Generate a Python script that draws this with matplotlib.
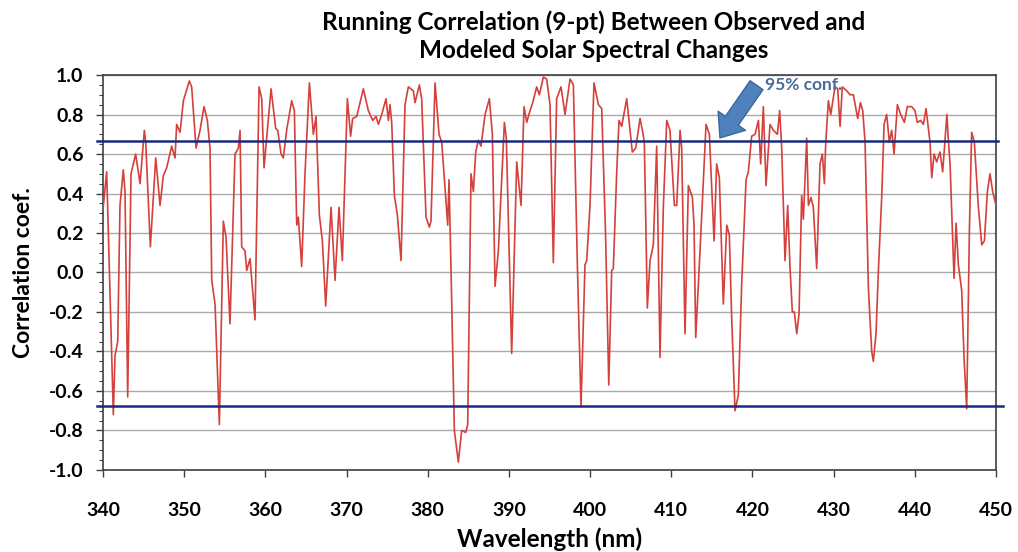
import matplotlib
matplotlib.use("Agg")
import matplotlib.pyplot as plt
from matplotlib.patches import FancyArrowPatch
from matplotlib.ticker import MultipleLocator

# Running 9-pt correlation, one row per 10 nm
wavelength = [
    340.0, 340.45, 341.27, 341.48, 341.81, 342.09, 342.5, 342.71, 343.04, 343.45, 344.02, 344.56, 345.09,
    345.26, 345.83, 346.49, 346.65, 347.02, 347.43, 347.84, 348.46, 348.87, 349.07, 349.49, 349.9,
    350.63, 350.92, 351.46, 351.95, 352.44, 352.85, 353.18, 353.39, 353.8, 354.33, 354.82, 355.15,
    355.64, 356.26, 356.67, 356.88, 357.08, 357.49, 357.7, 358.11, 358.72, 359.22, 359.55, 359.83,
    360.7, 361.27, 361.52, 361.93, 362.21, 362.62, 363.24, 363.57, 363.86, 364.06, 364.47,
    364.88, 365.42, 365.91, 366.24, 366.65, 367.02, 367.43, 368.09, 368.58, 369.07, 369.48,
    370.1, 370.5, 370.75, 371.25, 372.07, 372.68, 373.22, 373.63, 373.92, 374.33, 374.86, 375.15,
    375.35, 375.56, 375.89, 376.26, 376.71, 377.2, 377.61, 378.23, 378.43, 378.97, 379.25, 379.79,
    380.2, 380.4, 380.9, 381.39, 381.72, 382.13, 382.46, 382.62, 382.87, 383.28, 383.77, 384.18, 384.67,
    384.92, 385.33, 385.62, 385.91, 386.23, 386.56, 387.06, 387.59, 387.96, 388.29, 388.7, 389.44, 389.68,
    390.34, 390.96, 391.49, 391.86, 392.19, 392.6, 392.93, 393.42, 393.75, 394.24, 394.65, 395.06,
    395.47, 395.88, 396.42, 396.91, 397.53, 397.94, 398.43, 398.88, 399.37, 399.58, 399.99,
    400.48, 401.02, 401.43, 401.9, 402.3, 402.66, 402.86, 403.27, 403.56, 403.89, 404.51, 404.92, 405.2,
    405.62, 406.15, 406.44, 406.68, 407.05, 407.38, 407.79, 408.2, 408.61, 409.02, 409.44, 409.84,
    410.38, 410.67, 411.08, 411.28, 411.69, 412.1, 412.6, 412.8, 413.01, 413.54, 414.28, 414.69, 415.27,
    415.59, 415.92, 416.41, 416.83, 417.15, 417.44, 417.85, 418.26, 418.67, 419.21, 419.49, 419.9,
    420.32, 420.73, 421.01, 421.34, 421.67, 422.16, 422.57, 423.07, 423.35, 423.6, 424.01, 424.34, 424.63,
    424.91, 425.16, 425.45, 425.74, 426.06, 426.27, 426.68, 426.89, 427.21, 427.5, 427.91, 428.32, 428.61,
    428.86, 429.02, 429.35, 429.64,
    430.17, 430.5, 430.79, 431.07, 431.61, 432.02, 432.43, 432.96, 433.3, 433.58, 433.87, 434.28, 434.69,
    434.89, 435.22, 435.51, 435.92, 436.21, 436.53, 436.86, 437.15, 437.44, 437.85, 438.26, 438.71,
    439.08, 439.61,
    440.02, 440.31, 440.72, 441.05, 441.38, 441.87, 442.08, 442.37, 442.69, 443.1, 443.43, 443.95, 444.1,
    444.34, 444.83, 445.08, 445.36, 445.77, 446.06, 446.39, 446.72, 447.0, 447.33, 447.83, 448.24,
    448.57, 448.94, 449.26, 449.59, 450.0,
]
correlation = [
    0.32, 0.51, -0.72, -0.42, -0.35, 0.34, 0.52, 0.41, -0.63, 0.50, 0.60, 0.45, 0.72,
    0.66, 0.13, 0.58, 0.51, 0.34, 0.49, 0.53, 0.64, 0.58, 0.75, 0.71, 0.87,
    0.97, 0.94, 0.63, 0.72, 0.84, 0.77, 0.63, -0.04, -0.16, -0.77, 0.26, 0.18,
    -0.26, 0.60, 0.63, 0.72, 0.13, 0.11, 0.01, 0.07, -0.24, 0.94, 0.88, 0.53,
    0.93, 0.73, 0.72, 0.60, 0.58, 0.72, 0.87, 0.82, 0.24, 0.28, 0.03,
    0.50, 0.96, 0.70, 0.79, 0.29, 0.16, -0.17, 0.33, -0.04, 0.33, 0.06,
    0.88, 0.69, 0.78, 0.79, 0.93, 0.82, 0.77, 0.79, 0.75, 0.80, 0.88, 0.77,
    0.85, 0.76, 0.39, 0.29, 0.06, 0.85, 0.94, 0.92, 0.86, 0.95, 0.88, 0.28,
    0.23, 0.26, 0.96, 0.70, 0.66, 0.43, 0.24, 0.47, 0.01, -0.80, -0.96, -0.80, -0.81,
    -0.77, 0.50, 0.41, 0.61, 0.67, 0.64, 0.80, 0.88, 0.70, -0.07, 0.11, 0.76, 0.68,
    -0.41, 0.56, 0.34, 0.84, 0.76, 0.82, 0.86, 0.94, 0.90, 0.99, 0.98, 0.85,
    0.05, 0.88, 0.94, 0.80, 0.98, 0.95, 0.04, -0.68, 0.04, 0.06, 0.34,
    0.96, 0.85, 0.83, 0.20, -0.57, 0.01, 0.02, 0.50, 0.77, 0.74, 0.88, 0.72, 0.61,
    0.63, 0.78, 0.72, 0.66, -0.18, 0.06, 0.14, 0.64, -0.43, 0.33, 0.77, 0.72,
    0.34, 0.34, 0.72, 0.63, -0.31, 0.44, 0.38, 0.24, -0.33, 0.11, 0.75, 0.70, 0.16,
    0.55, 0.48, -0.16, 0.24, 0.19, -0.23, -0.70, -0.62, -0.06, 0.47, 0.51, 0.69,
    0.70, 0.77, 0.55, 0.84, 0.44, 0.75, 0.72, 0.70, 0.82, 0.63, 0.06, 0.34, 0.02,
    -0.20, -0.20, -0.31, -0.21, 0.39, 0.27, 0.68, 0.34, 0.38, 0.33, 0.02, 0.55, 0.60,
    0.45, 0.65, 0.87, 0.80,
    0.94, 0.93, 0.74, 0.94, 0.92, 0.90, 0.90, 0.78, 0.86, 0.82, 0.66, -0.08, -0.40,
    -0.45, -0.31, 0.01, 0.38, 0.75, 0.80, 0.66, 0.72, 0.60, 0.85, 0.80, 0.76,
    0.84, 0.84,
    0.82, 0.76, 0.77, 0.75, 0.83, 0.66, 0.48, 0.60, 0.56, 0.61, 0.51, 0.80, 0.69,
    0.55, -0.03, 0.25, 0.04, -0.09, -0.43, -0.69, 0.21, 0.71, 0.66, 0.33, 0.14,
    0.16, 0.41, 0.50, 0.41, 0.34,
]

# 95% confidence levels
conf_upper = 0.665
conf_lower = -0.675

x_ticks = [340, 350, 360, 370, 380, 390, 400, 410, 420, 430, 440, 450]
y_ticks = [-1.0, -0.8, -0.6, -0.4, -0.2, 0.0, 0.2, 0.4, 0.6, 0.8, 1.0]
y_tick_labels = ["%.1f" % v for v in y_ticks]

FONT = ["Lato", "DejaVu Sans"]


def plot_running_correlation():
    plt.rcParams["font.family"] = FONT
    fig = plt.figure(figsize=(10.18, 5.52), dpi=100)
    ax = fig.add_axes([0.1012, 0.1486, 0.8772, 0.7155])

    ax.set_xlim(340, 450)
    ax.set_ylim(-1.0, 1.0)
    ax.set_yticks(y_ticks)
    ax.set_yticklabels(y_tick_labels)
    ax.set_xticks(x_ticks)
    ax.yaxis.set_minor_locator(MultipleLocator(0.05))
    ax.grid(axis="y", which="major", color="#aaaaaa", linewidth=1.0)
    ax.set_axisbelow(True)

    ax.tick_params(axis="both", which="major", direction="out", length=5,
                   width=1, color="#404040", labelsize=14)
    ax.tick_params(axis="x", which="major", pad=18)
    ax.tick_params(axis="y", which="major", pad=9)
    ax.tick_params(axis="y", which="minor", direction="out", length=3,
                   width=0.8, color="#404040")
    for lab in ax.get_xticklabels() + ax.get_yticklabels():
        lab.set_fontweight("bold")
    for sp in ax.spines.values():
        sp.set_color("#404040")
        sp.set_linewidth(1.2)

    ax.plot(wavelength, correlation, color="#d4403c", linewidth=1.2, zorder=3)

    # confidence lines run slightly past the frame
    ax.plot([339.2, 450.2], [conf_upper, conf_upper], color="#1b2a7c",
            linewidth=1.8, clip_on=False, zorder=4)
    ax.plot([339.2, 450.9], [conf_lower, conf_lower], color="#1b2a7c",
            linewidth=1.8, clip_on=False, zorder=4)

    arrow = FancyArrowPatch((420.7, 0.96), (415.8, 0.67),
                            arrowstyle="simple,head_width=1.6,head_length=1.0,tail_width=0.75",
                            mutation_scale=15, fc="#4f81bd", ec="#3a679c",
                            linewidth=1.0, zorder=5)
    ax.add_patch(arrow)
    ax.text(421.6, 0.95, "95% conf.", color="#4a6b98", fontsize=12.5,
            fontweight="bold", va="center", ha="left", zorder=5)

    fig.text(0.583, 0.96, "Running Correlation (9-pt) Between Observed and",
             ha="center", va="center", fontsize=17.5, fontweight="bold")
    fig.text(0.583, 0.908, "Modeled Solar Spectral Changes",
             ha="center", va="center", fontsize=17.5, fontweight="bold")
    ax.set_xlabel("Wavelength (nm)", fontsize=17.5, fontweight="bold", labelpad=6)
    ax.set_ylabel("Correlation coef.", fontsize=16.5, fontweight="bold", labelpad=11)

    fig.savefig("out.png", dpi=100, facecolor="white")


if __name__ == "__main__":
    plot_running_correlation()
